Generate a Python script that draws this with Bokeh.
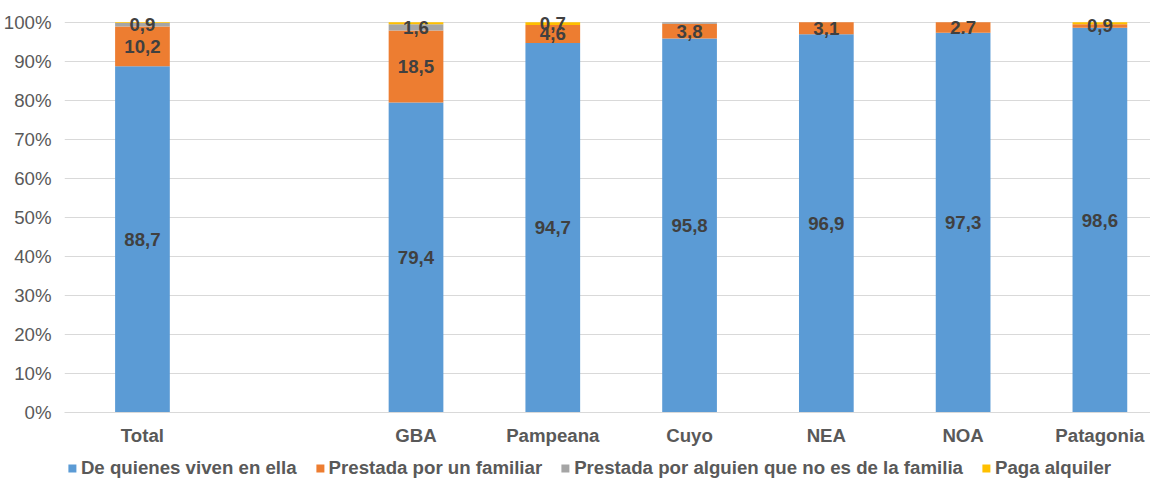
from bokeh.plotting import figure
from bokeh.models import ColumnDataSource, FixedTicker, Legend, LegendItem, Range1d
from bokeh.layouts import column
from bokeh.embed import file_html
from bokeh.resources import INLINE
from bokeh.core.properties import value

# ---- data ----
categories = ["Total", "", "GBA", "Pampeana", "Cuyo", "NEA", "NOA", "Patagonia"]
series_names = ["De quienes viven en ella", "Prestada por un familiar",
                "Prestada por alguien que no es de la familia", "Paga alquiler"]
propia = [88.7, 0.0, 79.4, 94.7, 95.8, 96.9, 97.3, 98.6]
familiar = [10.2, 0.0, 18.5, 4.6, 3.8, 3.1, 2.7, 0.9]
no_familia = [0.9, 0.0, 1.6, 0.0, 0.4, 0.0, 0.0, 0.0]
alquiler = [0.2, 0.0, 0.5, 0.7, 0.0, 0.0, 0.0, 0.5]

lbl_propia = ["88,7", "", "79,4", "94,7", "95,8", "96,9", "97,3", "98,6"]
lbl_familiar = ["10,2", "", "18,5", "4,6", "3,8", "3,1", "2.7", "0,9"]
lbl_no_familia = ["0,9", "", "1,6", "", "", "", "", ""]
lbl_alquiler = ["", "", "", "0,7", "", "", "", ""]

y_ticks = [0, 10, 20, 30, 40, 50, 60, 70, 80, 90, 100]
colors = ["#5B9BD5", "#ED7D31", "#A5A5A5", "#FFC000"]

FONT = "Liberation Sans"
FS = "18.67px"

xs = list(range(len(categories)))
keys = ["propia", "familiar", "no_familia", "alquiler"]
source = ColumnDataSource(dict(x=xs, propia=propia, familiar=familiar,
                               no_familia=no_familia, alquiler=alquiler))

p = figure(frame_width=1086, frame_height=402, output_backend="svg", toolbar_location=None,
           x_range=Range1d(-0.57, 7.37), y_range=Range1d(0, 103),
           min_border_left=54, min_border_right=0, min_border_top=10,
           min_border_bottom=0)
p.outline_line_color = None
p.background_fill_color = "white"
p.border_fill_color = "white"

renderers = p.vbar_stack(keys, x="x", width=0.4, source=source, color=colors,
                         line_color=None)

# data labels
all_vals = [propia, familiar, no_familia, alquiler]
all_lbls = [lbl_propia, lbl_familiar, lbl_no_familia, lbl_alquiler]
lx, ly, lt = [], [], []
for i in range(len(categories)):
    base = 0.0
    for vals, lbls in zip(all_vals, all_lbls):
        if lbls[i]:
            lx.append(xs[i])
            ly.append(base + vals[i] / 2.0)
            lt.append(lbls[i])
        base += vals[i]
p.text(x=lx, y=ly, text=lt, text_align="center", text_baseline="middle",
       text_font=value(FONT), text_font_style="bold", text_font_size=FS,
       text_color="#404040")

# axes
p.yaxis.ticker = FixedTicker(ticks=y_ticks)
p.yaxis.major_label_overrides = {t: f"{t}%" for t in y_ticks}
p.yaxis.axis_line_color = None
p.yaxis.major_tick_line_color = None
p.yaxis.minor_tick_line_color = None
p.yaxis.major_label_text_font = FONT
p.yaxis.major_label_text_font_size = FS
p.yaxis.major_label_text_color = "#595959"
p.yaxis.major_label_standoff = 7

p.xaxis.ticker = FixedTicker(ticks=[x for x, c in zip(xs, categories) if c])
p.xaxis.major_label_overrides = {x: c for x, c in zip(xs, categories) if c}
p.xaxis.axis_line_color = "#D9D9D9"
p.xaxis.axis_line_width = 1
p.xaxis.major_tick_line_color = None
p.xaxis.minor_tick_line_color = None
p.xaxis.major_label_text_font = FONT
p.xaxis.major_label_text_font_style = "bold"
p.xaxis.major_label_text_font_size = FS
p.xaxis.major_label_text_color = "#595959"
p.xaxis.major_label_standoff = 6

p.xgrid.grid_line_color = None
p.ygrid.ticker = FixedTicker(ticks=y_ticks)
p.ygrid.grid_line_color = "#D9D9D9"
p.ygrid.grid_line_width = 1

# legend in a strip below (same series drawn out of view, only used for legend swatches)
p2 = figure(width=1140, height=38, output_backend="svg", toolbar_location=None,
            x_range=Range1d(-0.57, 7.37), y_range=Range1d(1000, 1001),
            min_border_left=0, min_border_right=26, min_border_top=0, min_border_bottom=0)
p2.axis.visible = False
p2.grid.visible = False
p2.outline_line_color = None
p2.background_fill_alpha = 0
p2.border_fill_alpha = 0
leg_rs = p2.vbar_stack(keys, x="x", width=0.4, source=source, color=colors, line_color=None)
legend = Legend(items=[LegendItem(label=n, renderers=[r], index=0) for n, r in zip(series_names, leg_rs)],
                orientation="horizontal", location="bottom_center",
                label_text_font=FONT, label_text_font_style="bold",
                label_text_font_size=FS, label_text_color="#595959",
                glyph_width=10, glyph_height=10, label_standoff=4, spacing=18,
                padding=0, margin=7, border_line_color=None, background_fill_alpha=0)
p2.add_layout(legend, "center")

layout = column(p, p2, spacing=0)
open("out.html", "w").write(file_html(layout, INLINE))
